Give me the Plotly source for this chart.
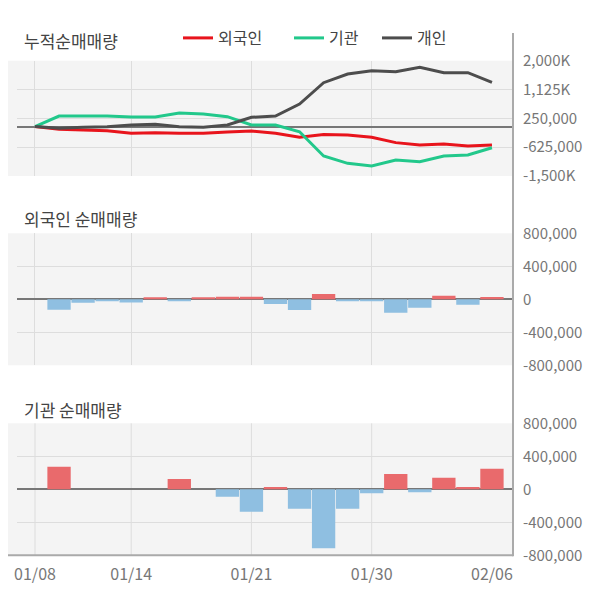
import plotly.graph_objects as go

# ---------------- data ----------------
dates = ["01/08", "01/09", "01/10", "01/13", "01/14", "01/15", "01/16", "01/17",
         "01/20", "01/21", "01/22", "01/23", "01/28", "01/29", "01/30", "01/31",
         "02/03", "02/04", "02/05", "02/06"]
tick_dates = ["01/08", "01/14", "01/21", "01/30", "02/06"]
grid_dates = ["01/08", "01/14", "01/21", "01/30"]

# cumulative net buying (shares)
foreign_cum = [0, -83000, -104000, -124000, -204000, -184000, -204000, -204000,
               -164000, -134000, -204000, -325000, -244000, -254000, -325000,
               -487000, -560000, -530000, -590000, -560000]
inst_cum = [0, 320000, 320000, 320000, 290000, 290000, 410000, 385000,
            300000, 50000, 45000, -156000, -893000, -1115000, -1197000,
            -1015000, -1066000, -893000, -863000, -641000]
indiv_cum = [0, -53000, -23000, -3000, 48000, 69000, -3000, -23000,
             48000, 282000, 321000, 685000, 1332000, 1596000, 1697000,
             1666000, 1800000, 1636000, 1636000, 1342000]

# daily net buying (shares)
foreign_daily = [None, -126000, -41000, -25000, -40000, 25000, -20000, 20000,
                 32000, 32000, -57000, -130000, 64000, -20000, -15000,
                 -162000, -103000, 42000, -67000, 28000]
inst_daily = [None, 274000, 0, 0, 0, 0, 125000, 0, -90000, -271000, 28000,
              -235000, -715000, -235000, -48000, 185000, -36000, 141000,
              28000, 250000]

top_tickvals = [2000000, 1125000, 250000, -625000, -1500000]
top_ticktext = ["2,000K", "1,125K", "250,000", "-625,000", "-1,500K"]
bar_tickvals = [800000, 400000, 0, -400000, -800000]
bar_ticktext = ["800,000", "400,000", "0", "-400,000", "-800,000"]

# ---------------- style ----------------
# the page body has an 8px margin, so the figure is drawn 8px in from the window edge
OFF = 8
W, H = 600 - OFF, 604 - OFF
FONT = "Noto Sans CJK KR"
RED_LINE = "#e8141c"
GREEN_LINE = "#22c88b"
DARK_LINE = "#4d4d4d"
POS_BAR = "#e96a6c"
NEG_BAR = "#8fbfe1"
BG = "#f4f4f4"
GRID = "#dddddd"
ZERO = "#777777"
AXIS = "#aaaaaa"
TICK = "#777777"
TITLE = "#444444"


def px_x(p):
    """window pixel -> paper x"""
    return (p - OFF) / W


def px_y(p):
    """window pixel -> paper y"""
    return 1 - (p - OFF) / H


def bar_colors(vals):
    return [POS_BAR if (v is not None and v >= 0) else NEG_BAR for v in vals]


# panel pixel extents (top, bottom) in window pixels
panels = [(60.7, 176.0), (233.3, 365.3), (423.3, 555.3)]
PLOT_L, PLOT_R = 17, 513

fig = go.Figure()

fig.add_trace(go.Scatter(x=dates, y=foreign_cum, name="외국인", mode="lines",
                         line=dict(color=RED_LINE, width=3),
                         xaxis="x", yaxis="y", legend="legend"))
fig.add_trace(go.Scatter(x=dates, y=inst_cum, name="기관", mode="lines",
                         line=dict(color=GREEN_LINE, width=3),
                         xaxis="x", yaxis="y", legend="legend2"))
fig.add_trace(go.Scatter(x=dates, y=indiv_cum, name="개인", mode="lines",
                         line=dict(color=DARK_LINE, width=3),
                         xaxis="x", yaxis="y", legend="legend3"))

fig.add_trace(go.Bar(x=dates, y=foreign_daily,
                     marker=dict(color=bar_colors(foreign_daily), line=dict(width=0)),
                     xaxis="x2", yaxis="y2", showlegend=False))
fig.add_trace(go.Bar(x=dates, y=inst_daily,
                     marker=dict(color=bar_colors(inst_daily), line=dict(width=0)),
                     xaxis="x3", yaxis="y3", showlegend=False))

xrange = [-0.748, 19.875]
xdomain = [px_x(PLOT_L), px_x(PLOT_R)]
xcommon = dict(type="category", range=xrange, domain=xdomain, showline=False,
               zeroline=False, ticks="", gridcolor=GRID, gridwidth=1, fixedrange=True,
               categoryorder="array", categoryarray=dates, automargin=False)

ycommon = dict(side="right", showline=False, ticks="", showgrid=True, gridcolor=GRID,
               gridwidth=1, zeroline=True, zerolinecolor=ZERO, zerolinewidth=2,
               tickfont=dict(family=FONT, size=15, color=TICK), ticklabelstandoff=9,
               fixedrange=True, automargin=False)

layout = dict(
    width=W, height=H,
    margin=dict(l=0, r=0, t=0, b=0, pad=0, autoexpand=False),
    paper_bgcolor="white", plot_bgcolor=BG,
    font=dict(family=FONT),
    bargap=0.03,
    xaxis=dict(xcommon, anchor="y", tickmode="array", tickvals=grid_dates,
               showticklabels=False, showgrid=True),
    xaxis2=dict(xcommon, anchor="y2", tickmode="array", tickvals=grid_dates,
                showticklabels=False, showgrid=True),
    xaxis3=dict(xcommon, anchor="y3", tickmode="array", tickvals=tick_dates,
                showticklabels=True, showgrid=False,
                tickfont=dict(family=FONT, size=16, color=TICK), ticklabelstandoff=8),
    yaxis=dict(ycommon, anchor="x", domain=[px_y(panels[0][1]), px_y(panels[0][0])],
               range=[-1500000, 2000000], tickmode="array", tickvals=top_tickvals,
               ticktext=top_ticktext),
    yaxis2=dict(ycommon, anchor="x2", domain=[px_y(panels[1][1]), px_y(panels[1][0])],
                range=[-800000, 800000], tickmode="array", tickvals=bar_tickvals,
                ticktext=bar_ticktext),
    yaxis3=dict(ycommon, anchor="x3", domain=[px_y(panels[2][1]), px_y(panels[2][0])],
                range=[-800000, 800000], tickmode="array", tickvals=bar_tickvals,
                ticktext=bar_ticktext),
)

legend_style = dict(orientation="h", xanchor="left", yanchor="middle", y=px_y(38),
                    font=dict(family=FONT, size=16, color=TITLE),
                    bgcolor="rgba(0,0,0,0)", borderwidth=0)
layout["legend"] = dict(legend_style, x=px_x(178))
layout["legend2"] = dict(legend_style, x=px_x(289))
layout["legend3"] = dict(legend_style, x=px_x(377))

fig.update_layout(**layout)

shapes = []
# grey background extension to the left of each panel
for (top, bot) in panels:
    shapes.append(dict(type="rect", xref="paper", yref="paper", x0=0, x1=px_x(PLOT_L),
                       y0=px_y(bot), y1=px_y(top), fillcolor=BG, line=dict(width=0),
                       layer="below"))
# vertical grid lines of the bottom panel
for d in grid_dates:
    shapes.append(dict(type="line", xref="x3", yref="y3 domain", x0=d, x1=d, y0=0, y1=1,
                       line=dict(color=GRID, width=1), layer="below"))
# right axis line & bottom border
shapes.append(dict(type="line", xref="paper", yref="paper", x0=px_x(PLOT_R), x1=px_x(PLOT_R),
                   y0=px_y(556.3), y1=px_y(33), line=dict(color=AXIS, width=2)))
shapes.append(dict(type="line", xref="paper", yref="paper", x0=0, x1=px_x(PLOT_R),
                   y0=px_y(555.3), y1=px_y(555.3), line=dict(color=AXIS, width=2)))
fig.update_layout(shapes=shapes)

titles = [("누적순매매량", 40.7), ("외국인 순매매량", 218.3), ("기관 순매매량", 409.3)]
for text, yc in titles:
    fig.add_annotation(text=text, xref="paper", yref="paper", x=px_x(22), y=px_y(yc),
                       xanchor="left", yanchor="middle", showarrow=False,
                       font=dict(family=FONT, size=17, color=TITLE))

fig.write_html("out.html")
